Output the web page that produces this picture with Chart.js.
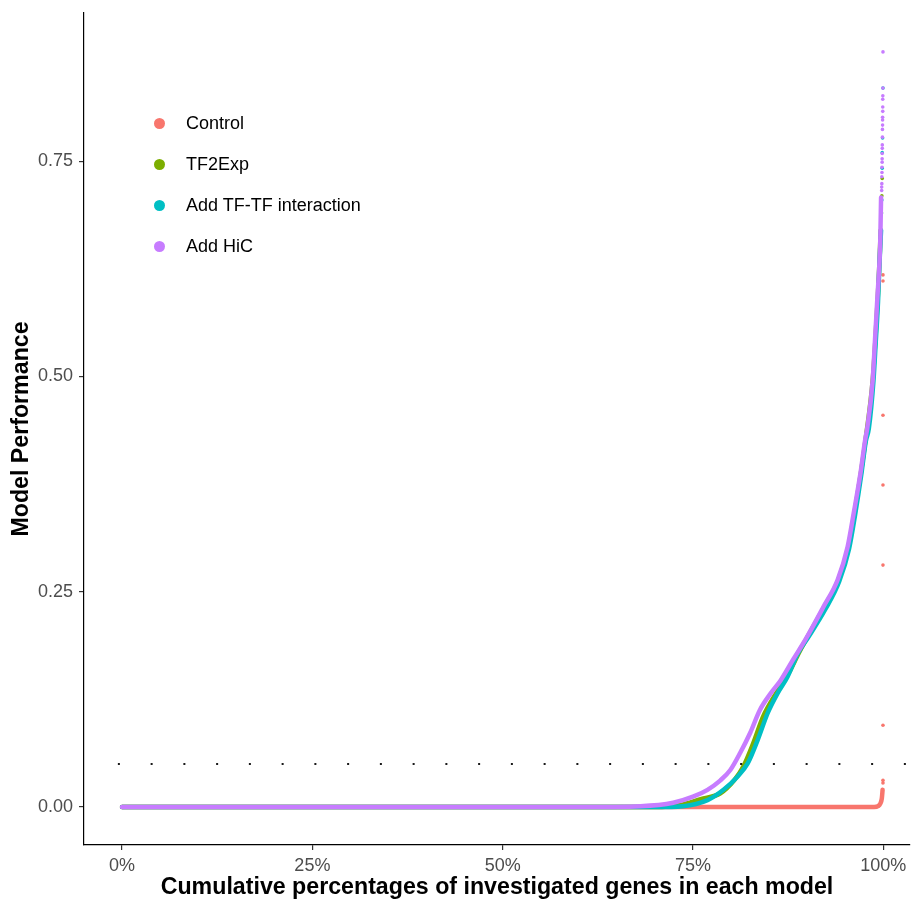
<!DOCTYPE html>
<html>
<head>
<meta charset="utf-8">
<script src="https://cdn.jsdelivr.net/npm/chart.js@4.4.1/dist/chart.umd.min.js"></script>
<style>
    html, body { margin: 0; padding: 0; background: #fff; }
    #contenedor { position: relative; width: 914px; height: 900px; }
    #leyenda { position: absolute; left: 0; top: 0; font-family: 'Liberation Sans', Arial, sans-serif; font-size: 18px; color: #000; }
    .item { position: absolute; left: 154px; height: 20px; display: flex; align-items: center; white-space: nowrap; }
    .punto { width: 11px; height: 11px; border-radius: 50%; margin-right: 21px; }
</style>
</head>
<body>
<div id="contenedor">
    <canvas id="grafico" width="914" height="900"></canvas>
    <div id="leyenda"></div>
</div>
<script>
// nombres de los modelos
const modelos = ['Control', 'TF2Exp', 'Add TF-TF interaction', 'Add HiC'];

// curvas (porcentaje acumulado de genes, rendimiento)
const controlX = [0, 50, 98.8, 99.3, 99.6, 99.8, 99.9];
const controlY = [0, 0, 0, 0.001, 0.004, 0.010, 0.020];
const tf2expX = [0, 60, 70, 73.2, 76.0, 78.6, 80.4, 81.6, 82.9, 84.2, 85.9, 87.6, 88.9, 90.0, 92.2, 94.1, 95.4, 96.2, 97.05, 97.65, 98.6, 98.95, 99.25, 99.5, 99.65];
const tf2expY = [0, 0, 0, 0.002, 0.009, 0.016, 0.031, 0.047, 0.074, 0.105, 0.132, 0.156, 0.179, 0.197, 0.232, 0.264, 0.302, 0.341, 0.388, 0.426, 0.496, 0.542, 0.589, 0.635, 0.670];
const tftfX = [0, 60, 70, 73.7, 76.9, 79.0, 80.8, 82.2, 83.5, 84.8, 86.1, 87.4, 88.8, 90.2, 92.4, 94.2, 95.5, 96.3, 97.1, 97.7, 98.1, 98.7, 99.0, 99.3, 99.5, 99.7];
const tftfY = [0, 0, 0, 0.001, 0.008, 0.020, 0.035, 0.051, 0.078, 0.109, 0.132, 0.151, 0.179, 0.198, 0.230, 0.262, 0.300, 0.340, 0.386, 0.425, 0.440, 0.495, 0.540, 0.587, 0.633, 0.670];
const hicX = [0, 60, 68.1, 72.4, 75.0, 76.9, 78.6, 79.9, 81.2, 82.5, 83.8, 85.2, 86.5, 88.2, 89.8, 92.1, 94.0, 95.3, 96.1, 97.0, 97.6, 97.9, 98.6, 98.9, 99.2, 99.5, 99.6, 99.7];
const hicY = [0, 0, 0.001, 0.005, 0.012, 0.020, 0.031, 0.043, 0.063, 0.086, 0.113, 0.132, 0.147, 0.172, 0.195, 0.232, 0.264, 0.302, 0.341, 0.388, 0.426, 0.441, 0.496, 0.542, 0.589, 0.635, 0.660, 0.708];

// genes sueltos en el extremo superior
const controlColaX = [99.95, 99.95, 99.95, 99.95, 99.95, 99.95, 99.95, 99.95];
const controlColaY = [0.028, 0.031, 0.095, 0.281, 0.374, 0.455, 0.611, 0.618];
const tf2expColaX = [99.75, 99.8, 99.85];
const tf2expColaY = [0.690, 0.710, 0.730];
const tftfColaX = [99.75, 99.8, 99.85, 99.85, 99.9, 99.95];
const tftfColaY = [0.690, 0.705, 0.742, 0.760, 0.777, 0.835];
const hicColaX = [99.78, 99.78, 99.8, 99.8, 99.82, 99.82, 99.84, 99.84, 99.85, 99.86, 99.86, 99.88, 99.88, 99.9, 99.9, 99.9, 99.92, 99.92, 99.92, 99.93, 99.94, 99.95];
const hicColaY = [0.716, 0.720, 0.724, 0.732, 0.737, 0.743, 0.749, 0.753, 0.759, 0.765, 0.769, 0.778, 0.787, 0.792, 0.798, 0.801, 0.808, 0.813, 0.822, 0.826, 0.835, 0.877];

const umbral = 0.05;
const ticksX = [0, 25, 50, 75, 100];
const ticksY = [0, 0.25, 0.5, 0.75];

const colores = ['#F8766D', '#7CAE00', '#00BFC4', '#C77CFF'];
const fuente = "'Liberation Sans', Arial, sans-serif";

function puntos(xs, ys) {
    return xs.map((x, i) => ({ x: x, y: ys[i] }));
}

const curvas = [puntos(controlX, controlY), puntos(tf2expX, tf2expY), puntos(tftfX, tftfY), puntos(hicX, hicY)];
const colas = [puntos(controlColaX, controlColaY), puntos(tf2expColaX, tf2expColaY), puntos(tftfColaX, tftfColaY), puntos(hicColaX, hicColaY)];

const datasets = [{
    label: 'umbral',
    data: [{ x: -0.55, y: umbral }, { x: 104, y: umbral }],
    showLine: true,
    borderColor: '#1a1a1a',
    borderWidth: 2,
    borderDash: [2, 30.75],
    pointRadius: 0,
    order: 0
}];

modelos.forEach((nombre, i) => {
    datasets.push({
        label: nombre,
        data: curvas[i],
        showLine: true,
        borderColor: colores[i],
        borderWidth: 4.5,
        borderCapStyle: 'round',
        borderJoinStyle: 'round',
        cubicInterpolationMode: 'monotone',
        pointRadius: 0,
        order: 4 - i
    });
    datasets.push({
        label: nombre + ' cola',
        data: colas[i],
        showLine: false,
        backgroundColor: colores[i],
        borderWidth: 0,
        pointRadius: 1.8,
        order: 4 - i
    });
});

new Chart(document.querySelector('#grafico'), {
    type: 'scatter',
    data: { datasets: datasets },
    options: {
        responsive: false,
        animation: false,
        layout: { padding: { top: 13, right: 0, left: 0, bottom: 0 } },
        plugins: {
            legend: { display: false },
            tooltip: { enabled: false }
        },
        scales: {
            x: {
                type: 'linear',
                min: -5,
                max: 103.5,
                afterFit: (escala) => { escala.height = 55; },
                afterBuildTicks: (escala) => { escala.ticks = ticksX.map(v => ({ value: v })); },
                ticks: {
                    callback: (v) => v + '%',
                    color: '#4d4d4d',
                    font: { family: fuente, size: 18 },
                    padding: 5,
                    maxRotation: 0,
                    autoSkip: false
                },
                grid: { drawOnChartArea: false, tickLength: 5, color: '#333', lineWidth: 1.2 },
                border: { color: '#000', width: 1.2 },
                title: {
                    display: true,
                    text: 'Cumulative percentages of investigated genes in each model',
                    color: '#000',
                    font: { family: fuente, size: 23.2, weight: 'bold' },
                    padding: { top: 0, bottom: -2 }
                }
            },
            y: {
                type: 'linear',
                min: -0.0441,
                max: 0.9222,
                afterFit: (escala) => {
                    escala.width = 84;
                    escala.paddingTop = 0;
                    escala.paddingBottom = 0;
                },
                afterBuildTicks: (escala) => { escala.ticks = ticksY.map(v => ({ value: v })); },
                ticks: {
                    callback: (v) => v.toFixed(2),
                    color: '#4d4d4d',
                    font: { family: fuente, size: 18 },
                    padding: 6
                },
                grid: { drawOnChartArea: false, tickLength: 5, color: '#333', lineWidth: 1.2 },
                border: { color: '#000', width: 1.2 },
                title: {
                    display: true,
                    text: 'Model Performance',
                    color: '#000',
                    font: { family: fuente, size: 23.2, weight: 'bold' },
                    padding: { top: 8, bottom: 0 }
                }
            }
        }
    }
});

// leyenda dentro del panel
const leyenda = document.querySelector('#leyenda');
const filas = [123, 164, 205, 246];
modelos.forEach((nombre, i) => {
    const item = document.createElement('div');
    item.className = 'item';
    item.style.top = (filas[i] - 10) + 'px';
    item.innerHTML = '<span class="punto" style="background:' + colores[i] + '"></span><span>' + nombre + '</span>';
    leyenda.appendChild(item);
});
</script>
</body>
</html>
